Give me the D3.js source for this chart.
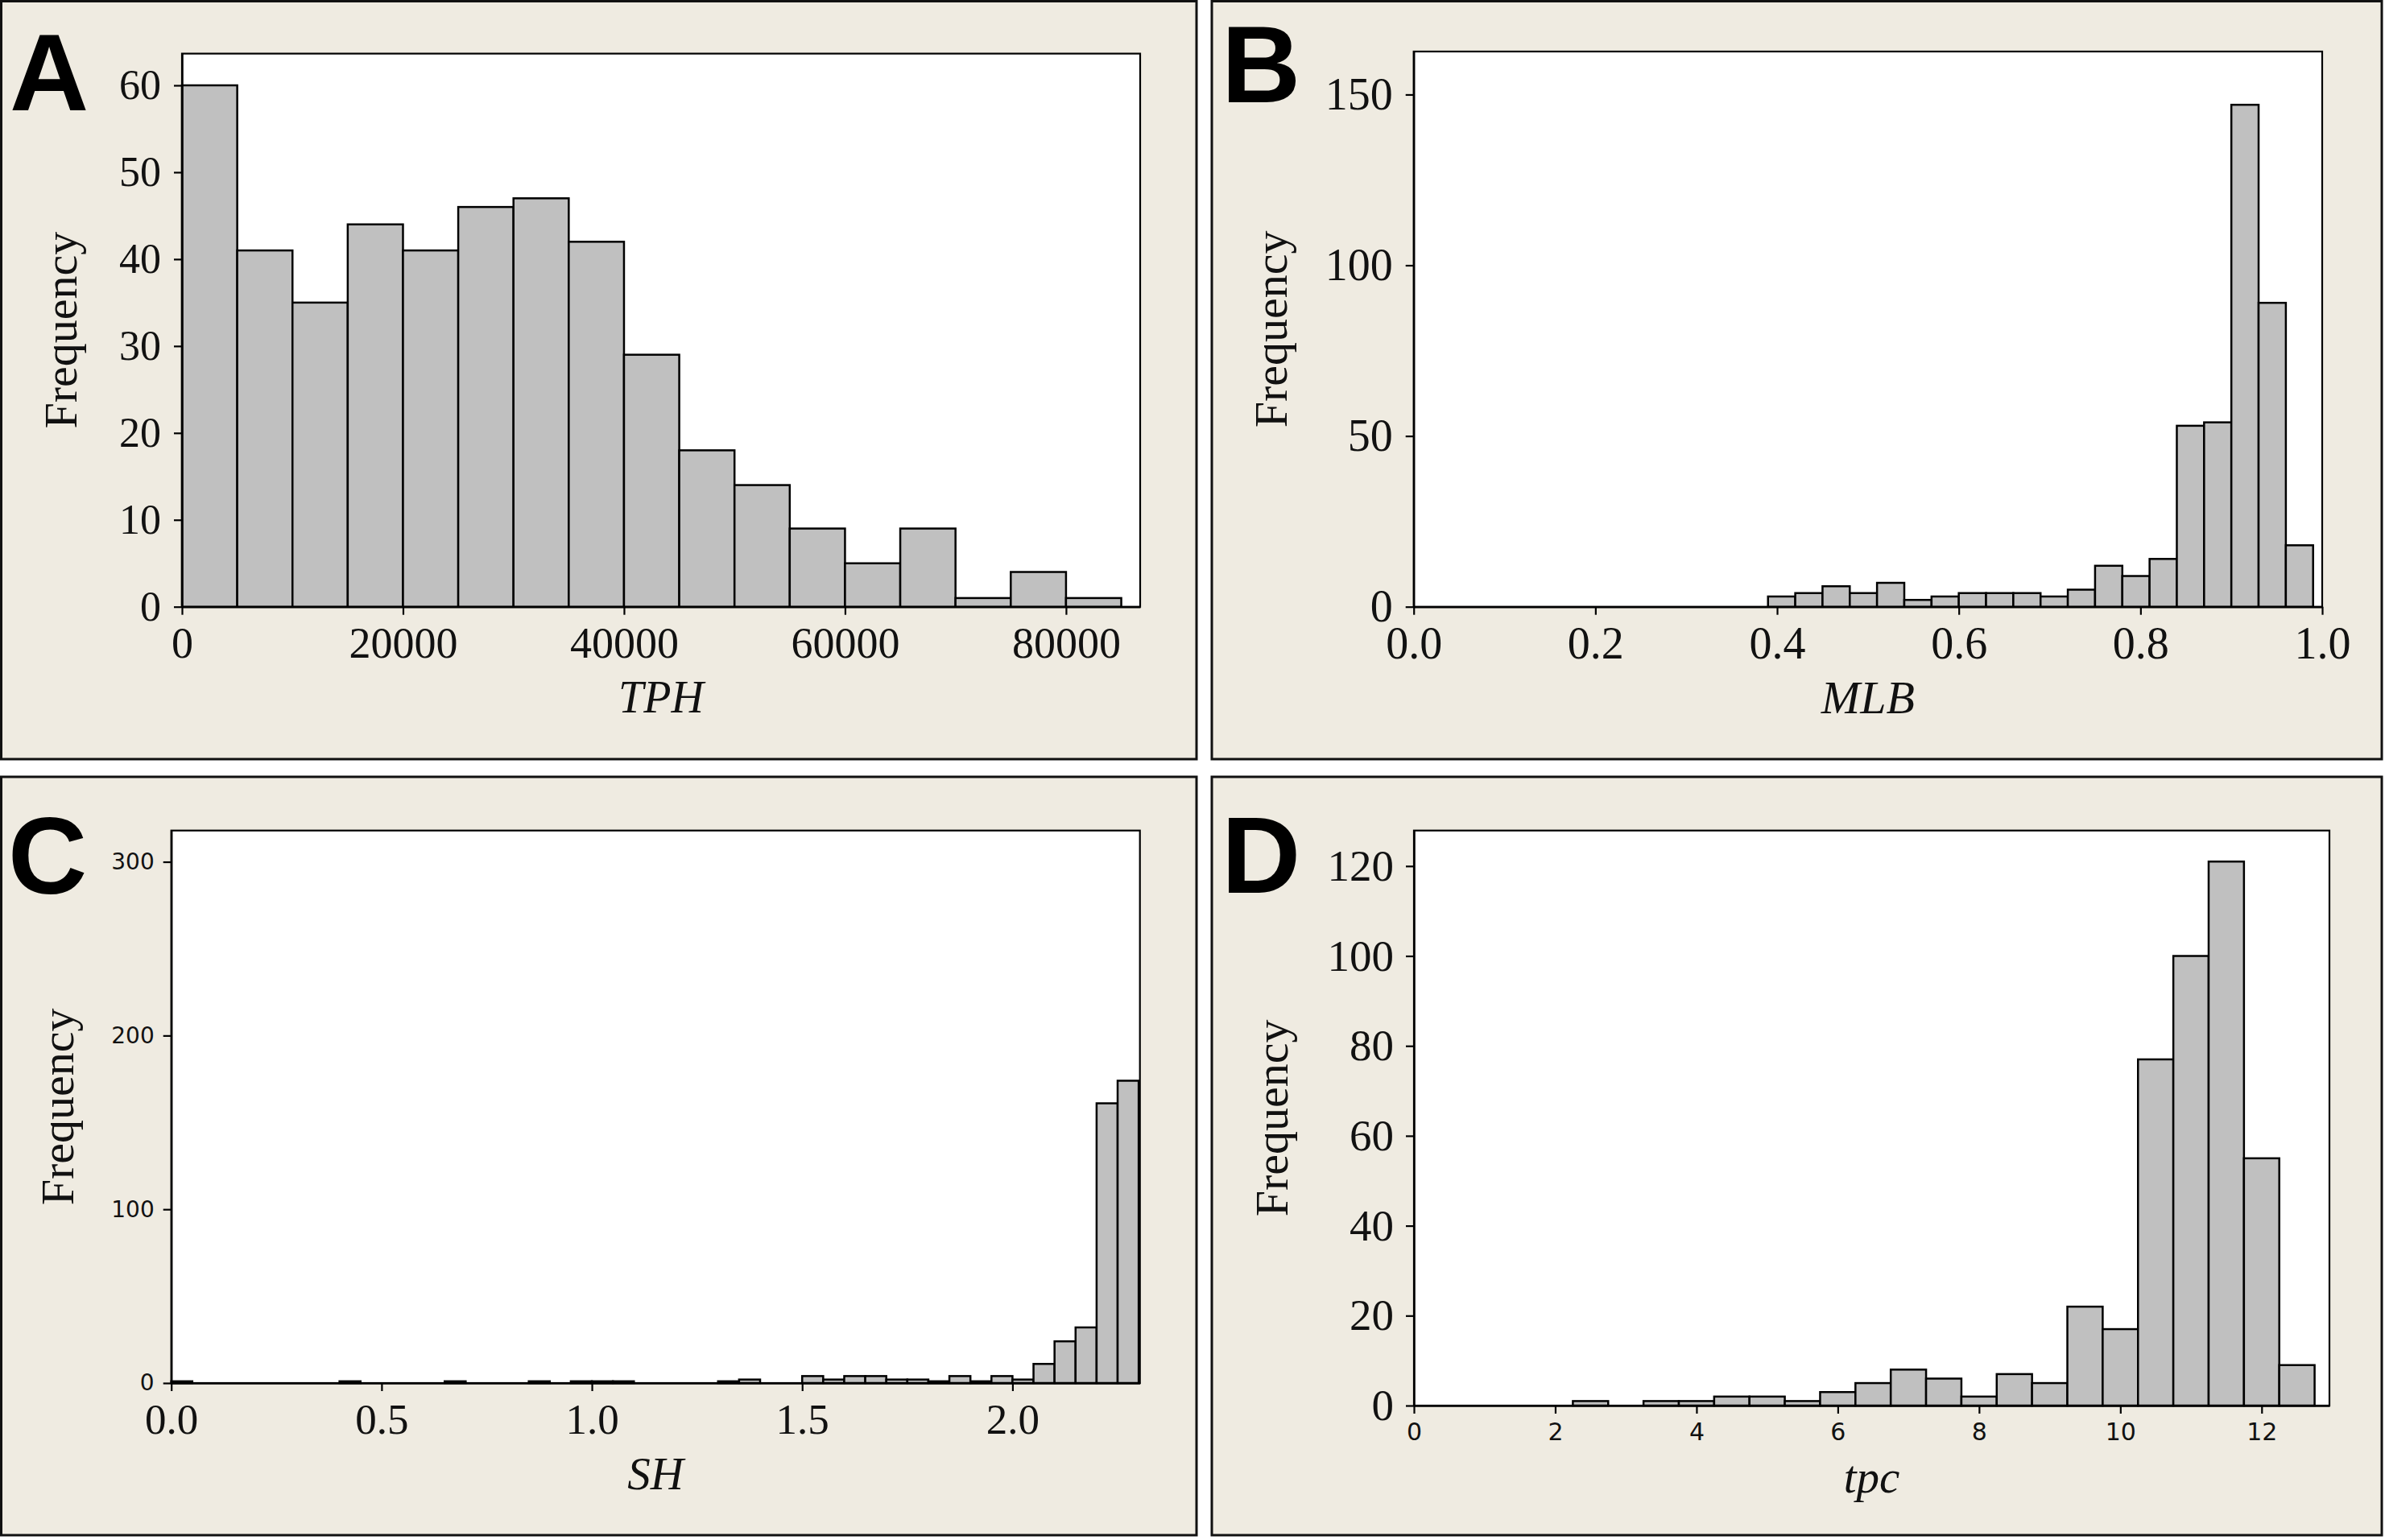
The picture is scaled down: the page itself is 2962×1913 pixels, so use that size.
<!DOCTYPE html>
<html lang="en">
<head>
<meta charset="UTF-8">
<title>Histograms TPH / MLB / SH / tpc</title>
<script src="https://d3js.org/d3.v7.min.js"></script>
<style>
  body { margin: 0; background: #fff; }
</style>
</head>
<body>
<div id="figure"></div>
<script>
// ---- data ----
// A: TPH, bin width 5000
const tphBins = [0, 5000, 10000, 15000, 20000, 25000, 30000, 35000, 40000,
                 45000, 50000, 55000, 60000, 65000, 70000, 75000, 80000];
const tphCounts = [60, 41, 35, 44, 41, 46, 47, 42, 29, 18, 14, 9, 5, 9, 1, 4, 1];
const tphXTicks = [0, 20000, 40000, 60000, 80000];
const tphYTicks = [0, 10, 20, 30, 40, 50, 60];

// B: MLB, bin width 0.03
const mlbBins = [0.39, 0.42, 0.45, 0.48, 0.51, 0.54, 0.57, 0.60, 0.63, 0.66,
                 0.69, 0.72, 0.75, 0.78, 0.81, 0.84, 0.87, 0.90, 0.93, 0.96];
const mlbCounts = [3, 4, 6, 4, 7, 2, 3, 4, 4, 4, 3, 5, 12, 9, 14, 53, 54, 147, 89, 18];
const mlbXTicks = [0, 0.2, 0.4, 0.6, 0.8, 1.0];
const mlbYTicks = [0, 50, 100, 150];

// C: SH, bin width 0.05
const shBins = [0.00, 0.05, 0.10, 0.15, 0.20, 0.25, 0.30, 0.35, 0.40, 0.45,
                0.50, 0.55, 0.60, 0.65, 0.70, 0.75, 0.80, 0.85, 0.90, 0.95,
                1.00, 1.05, 1.10, 1.15, 1.20, 1.25, 1.30, 1.35, 1.40, 1.45,
                1.50, 1.55, 1.60, 1.65, 1.70, 1.75, 1.80, 1.85, 1.90, 1.95,
                2.00, 2.05, 2.10, 2.15, 2.20, 2.25];
const shCounts = [1, 0, 0, 0, 0, 0, 0, 0, 1, 0,
                  0, 0, 0, 1, 0, 0, 0, 1, 0, 1,
                  1, 1, 0, 0, 0, 0, 1, 2, 0, 0,
                  4, 2, 4, 4, 2, 2, 1, 4, 1, 4,
                  2, 11, 24, 32, 161, 174];
const shXTicks = [0, 0.5, 1.0, 1.5, 2.0];
const shYTicks = [0, 100, 200, 300];

// D: tpc, bin width 0.5
const tpcBins = [2.25, 2.75, 3.25, 3.75, 4.25, 4.75, 5.25, 5.75, 6.25, 6.75, 7.25,
                 7.75, 8.25, 8.75, 9.25, 9.75, 10.25, 10.75, 11.25, 11.75, 12.25];
const tpcCounts = [1, 0, 1, 1, 2, 2, 1, 3, 5, 8, 6, 2, 7, 5, 22, 17, 77, 100, 121, 55, 9];
const tpcXTicks = [0, 2, 4, 6, 8, 10, 12];
const tpcYTicks = [0, 20, 40, 60, 80, 100, 120];

// ---- drawing ----
const W = 2962, H = 1913;
const SERIF = "'Liberation Serif', 'Times New Roman', serif";
const SANS = "'DejaVu Sans', Verdana, sans-serif";
const BOLD = "'Liberation Sans', Arial, sans-serif";

const svg = d3.select('#figure').append('svg')
    .attr('width', W)
    .attr('height', H);

function drawPanel(p) {
    let g = svg.append('g');

    // beige frame of the panel
    g.append('rect')
        .attr('x', p.box[0]).attr('y', p.box[1])
        .attr('width', p.box[2] - p.box[0])
        .attr('height', p.box[3] - p.box[1])
        .attr('fill', '#efebe1')
        .attr('stroke', '#111')
        .attr('stroke-width', 3);

    g.append('text')
        .attr('x', p.letterPos[0]).attr('y', p.letterPos[1])
        .attr('font-family', BOLD).attr('font-weight', 'bold')
        .attr('font-size', 136)
        .text(p.letter);

    let x = d3.scaleLinear().domain(p.xDomain).range([p.left, p.right]);
    let y = d3.scaleLinear().domain(p.yDomain).range([p.bottom, p.top]);

    // plot area
    g.append('rect')
        .attr('x', p.left).attr('y', p.top)
        .attr('width', p.right - p.left)
        .attr('height', p.bottom - p.top)
        .attr('fill', '#fff')
        .attr('stroke', '#000')
        .attr('stroke-width', 2.2);

    let bars = p.bins.map((b, i) => ({lo: b, hi: b + p.binWidth, n: p.counts[i]}))
        .filter(d => d.n > 0);

    g.selectAll('rect.bar')
        .data(bars)
        .join('rect')
        .attr('class', 'bar')
        .attr('x', d => x(d.lo))
        .attr('y', d => y(d.n))
        .attr('width', d => x(d.hi) - x(d.lo))
        .attr('height', d => y(0) - y(d.n))
        .attr('fill', '#c0c0c0')
        .attr('stroke', '#000')
        .attr('stroke-width', 2.5);

    let xAxis = d3.axisBottom(x)
        .tickValues(p.xTicks)
        .tickFormat(p.xFormat)
        .tickSize(10)
        .tickSizeOuter(0)
        .tickPadding(p.xPad);
    let gx = g.append('g')
        .attr('transform', `translate(0,${p.bottom})`)
        .call(xAxis);

    let yAxis = d3.axisLeft(y)
        .tickValues(p.yTicks)
        .tickFormat(d3.format('d'))
        .tickSize(10)
        .tickSizeOuter(0)
        .tickPadding(p.yPad);
    let gy = g.append('g')
        .attr('transform', `translate(${p.left},0)`)
        .call(yAxis);

    [gx, gy].forEach(a => {
        a.select('.domain').attr('stroke', '#000').attr('stroke-width', 2.5);
        a.selectAll('.tick line').attr('stroke', '#000').attr('stroke-width', 2.2);
    });
    gx.selectAll('text')
        .attr('font-family', p.xFont[0])
        .attr('font-size', p.xFont[1])
        .attr('fill', '#111');
    gy.selectAll('text')
        .attr('font-family', p.yFont[0])
        .attr('font-size', p.yFont[1])
        .attr('fill', '#111');

    // axis titles
    g.append('text')
        .attr('x', (p.left + p.right) / 2)
        .attr('y', p.xTitleY)
        .attr('text-anchor', 'middle')
        .attr('font-family', SERIF)
        .attr('font-style', 'italic')
        .attr('font-size', p.xTitleSize)
        .attr('fill', '#111')
        .text(p.xTitle);

    g.append('text')
        .attr('transform', `translate(${p.yTitleX},${(p.top + p.bottom) / 2}) rotate(-90)`)
        .attr('text-anchor', 'middle')
        .attr('font-family', SERIF)
        .attr('font-size', 58)
        .attr('fill', '#111')
        .text('Frequency');
}

drawPanel({
    box: [1.5, 1.5, 1486, 943], letter: 'A', letterPos: [12, 137],
    left: 226, right: 1416, top: 66.6, bottom: 753.7,
    xDomain: [0, 86710], yDomain: [0, 63.65],
    bins: tphBins, counts: tphCounts, binWidth: 5000,
    xTicks: tphXTicks, yTicks: tphYTicks, xFormat: d3.format('d'),
    xFont: [SERIF, 54], yFont: [SERIF, 52], xPad: 15, yPad: 16,
    xTitle: 'TPH', xTitleY: 885, xTitleSize: 56, yTitleX: 95
});

drawPanel({
    box: [1505, 1.5, 2958, 943], letter: 'B', letterPos: [1517, 127],
    left: 1755.7, right: 2884, top: 64, bottom: 753.7,
    xDomain: [0, 1.0], yDomain: [0, 162.6],
    bins: mlbBins, counts: mlbCounts, binWidth: 0.03,
    xTicks: mlbXTicks, yTicks: mlbYTicks, xFormat: d3.format('.1f'),
    xFont: [SERIF, 56], yFont: [SERIF, 56], xPad: 15, yPad: 16,
    xTitle: 'MLB', xTitleY: 886, xTitleSize: 58, yTitleX: 1598
});

drawPanel({
    box: [1.5, 965, 1486, 1907], letter: 'C', letterPos: [10, 1110],
    left: 212.7, right: 1415.7, top: 1031.7, bottom: 1718,
    xDomain: [0, 2.303], yDomain: [0, 318],
    bins: shBins, counts: shCounts, binWidth: 0.05,
    xTicks: shXTicks, yTicks: shYTicks, xFormat: d3.format('.1f'),
    xFont: [SERIF, 53], yFont: [SANS, 28], xPad: 15, yPad: 11,
    xTitle: 'SH', xTitleY: 1850, xTitleSize: 57, yTitleX: 91
});

drawPanel({
    box: [1505, 965, 2958, 1907], letter: 'D', letterPos: [1517, 1109],
    left: 1756, right: 2893, top: 1031.7, bottom: 1746,
    xDomain: [0, 12.96], yDomain: [0, 127.9],
    bins: tpcBins, counts: tpcCounts, binWidth: 0.5,
    xTicks: tpcXTicks, yTicks: tpcYTicks, xFormat: d3.format('d'),
    xFont: [SANS, 30], yFont: [SERIF, 55], xPad: 12, yPad: 15,
    xTitle: 'tpc', xTitleY: 1854, xTitleSize: 57, yTitleX: 1599
});
</script>
</body>
</html>
